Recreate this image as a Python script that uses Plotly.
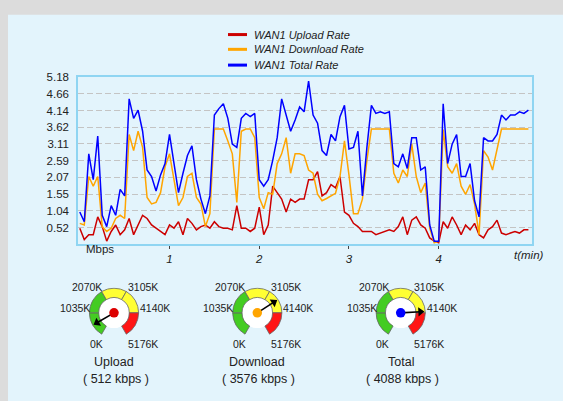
import plotly.graph_objects as go

W, H = 563, 401

# ---------------- data ----------------
times_s = list(range(0, 301, 3))  # sample time in seconds

upload = [0.5, 0.15, 0.3, 0.3, 0.85, 0.55, 0.1, 0.4, 0.6, 0.3,
          0.45, 0.8, 0.3, 0.6, 0.9, 0.8, 0.6, 0.5, 0.4, 0.3,
          0.6, 0.5, 0.7, 0.3, 0.8, 0.65, 0.45, 0.55, 0.6, 0.5,
          0.7, 0.55, 0.5, 0.5, 0.45, 1.2, 0.5, 0.5, 0.4, 0.5,
          1.15, 0.3, 0.6, 1.8, 1.6, 1.4, 1.0, 1.4, 1.3, 1.4,
          1.4, 2.0, 2.0, 2.25, 1.5, 1.6, 1.85, 1.75, 2.1, 1.0,
          0.9, 0.65, 0.55, 0.4, 0.4, 0.4, 0.3, 0.35, 0.42, 0.45,
          0.4, 0.55, 0.85, 0.3, 0.75, 0.85, 0.6, 0.5, 0.2, 0.1,
          0.05, 0.7, 0.5, 0.85, 0.6, 0.3, 0.6, 0.45, 0.65, 0.3,
          0.2, 0.45, 0.55, 0.75, 0.35, 0.3, 0.35, 0.4, 0.35, 0.45,
          0.45]

download = [0.65, 0.6, 2.1, 1.8, 2.1, 0.55, 0.4, 0.5, 0.8, 0.9,
            0.8, 3.4, 2.9, 3.5, 3.0, 1.45, 1.25, 1.3, 1.6, 2.4,
            2.8, 2.0, 1.2, 1.45, 2.1, 2.2, 1.45, 1.25, 0.55, 0.95,
            3.57, 3.57, 3.57, 3.2, 2.8, 1.3, 3.5, 3.57, 3.57, 3.3,
            1.45, 1.1, 1.6, 1.55, 2.5, 2.8, 3.3, 2.2, 2.8, 2.8,
            2.75, 2.3, 2.2, 1.55, 1.35, 1.42, 1.5, 1.58, 2.1, 3.2,
            2.15, 0.95, 0.95, 1.4, 2.6, 3.57, 3.57, 3.57, 3.57, 3.57,
            2.2, 1.9, 2.3, 2.1, 3.1, 2.1, 1.6, 1.9, 0.5, 0.05,
            0.1, 3.55, 2.4, 2.2, 2.5, 1.8, 1.55, 1.85, 1.25, 0.3,
            2.9, 2.7, 2.3, 2.9, 3.57, 3.57, 3.57, 3.57, 3.57, 3.57,
            3.57]

total = [1.0, 0.7, 2.8, 2.0, 3.35, 0.9, 0.55, 1.2, 0.9, 1.7,
         1.5, 4.5, 3.9, 4.15, 3.5, 2.3, 2.1, 1.65, 2.15, 2.5,
         3.4, 2.5, 1.6, 2.2, 2.75, 3.05, 2.0, 1.4, 0.95, 1.5,
         4.0, 4.2, 4.35, 3.9, 3.1, 3.0, 3.9, 4.05, 3.95, 4.05,
         2.0, 1.8, 2.0, 2.6, 3.3, 4.5, 4.0, 3.5, 3.85, 4.25,
         4.1, 5.05, 4.0, 3.75, 2.9, 2.75, 3.4, 3.2, 3.95, 4.3,
         2.95, 3.0, 3.5, 1.5, 3.0, 4.3, 4.05, 4.1, 4.05, 4.1,
         2.5, 2.4, 2.8, 2.35, 3.3, 3.3, 2.3, 2.4, 0.6, 0.1,
         0.1, 4.35, 2.5, 3.1, 3.4, 2.1, 2.1, 2.5, 1.35, 0.85,
         3.3, 3.2, 3.2, 3.4, 4.0, 3.85, 4.0, 4.0, 4.1, 4.05,
         4.15]

series_names = ["WAN1 Upload Rate", "WAN1 Download Rate", "WAN1 Total Rate"]
series_colors = ["#cc0000", "#ffa500", "#0000ff"]

y_tickvals = [0.52, 1.04, 1.55, 2.07, 2.59, 3.11, 3.62, 4.14, 4.66, 5.18]
y_ticktext = ["0.52", "1.04", "1.55", "2.07", "2.59", "3.11", "3.62", "4.14", "4.66", "5.18"]
x_tickvals = [1, 2, 3, 4]

gauge_edges = [0, 1035, 2070, 3105, 4140, 5176]          # kbps
gauge_seg_colors = ["#44cc22", "#44cc22", "#ffff33", "#ffff33", "#ff1515"]
gauge_tick_labels = ["0K", "1035K", "2070K", "3105K", "4140K", "5176K"]
gauge_names = ["Upload", "Download", "Total"]
gauge_values = [512, 3576, 4088]                          # kbps
gauge_dot_colors = ["#dd0000", "#ffa500", "#0000ff"]

# ---------------- figure ----------------
fig = go.Figure()

x_min = [t / 60 for t in times_s]
for vals, name, col in zip([upload, download, total], series_names, series_colors):
    fig.add_trace(go.Scatter(x=x_min, y=vals, mode="lines", name=name,
                             line=dict(color=col, width=1.5), showlegend=False,
                             xaxis="x", yaxis="y"))

FONT = "Liberation Sans, Arial, sans-serif"

shapes = []
annotations = []

# background panel
shapes.append(dict(type="rect", xref="paper", yref="paper", x0=8 / W, x1=1.0,
                   y0=0, y1=(H - 9) / H, fillcolor="#e3f4fc", line=dict(width=0),
                   layer="below"))

# legend (custom, to match compact look)
leg_y = [29, 44, 60]
for name, col, yy in zip(series_names, series_colors, leg_y):
    shapes.append(dict(type="line", xref="paper", yref="paper",
                       x0=228 / W, x1=247 / W, y0=(H - yy) / H, y1=(H - yy) / H,
                       line=dict(color=col, width=3)))
    annotations.append(dict(text=name, xref="paper", yref="paper", x=252 / W,
                            y=(H - yy) / H, xanchor="left", yanchor="middle",
                            showarrow=False,
                            font=dict(family=FONT, size=11, color="#222", style="italic")))

annotations.append(dict(text="Mbps", xref="paper", yref="paper", x=100 / W, y=(H - 247) / H,
                        xanchor="center", yanchor="middle", showarrow=False,
                        font=dict(family=FONT, size=11.5, color="#222")))
annotations.append(dict(text="t(min)", xref="paper", yref="paper", x=529 / W, y=(H - 253) / H,
                        xanchor="center", yanchor="middle", showarrow=False,
                        font=dict(family=FONT, size=11.5, color="#222", style="italic")))

# ---------------- gauges ----------------
deg_per_kbps = 60 / 1035
centers = [(114, 311.5), (257.3, 311.5), (400.7, 311.5)]
R = 26
label_offsets = [(-18, 31.5), (-39, -4.5), (-27, -26), (28.5, -26), (41, -4.5), (28.5, 31.5)]

layout_polars = {}
for i, ((cx, cy), gname, gval, dcol) in enumerate(zip(centers, gauge_names, gauge_values, gauge_dot_colors)):
    pname = "polar" if i == 0 else f"polar{i + 1}"
    layout_polars[pname] = dict(
        domain=dict(x=[(cx - R) / W, (cx + R) / W], y=[(H - cy - R) / H, (H - cy + R) / H]),
        bgcolor="rgba(0,0,0,0)", bargap=0,
        radialaxis=dict(visible=False, range=[0, R]),
        angularaxis=dict(visible=False, rotation=240, direction="clockwise",
                         showgrid=False, showline=False, ticks=""),
    )
    fig.add_trace(go.Barpolar(r=[15.5], theta=[180], width=[360], base=[0],
                              marker=dict(color="white", line=dict(width=0)),
                              subplot=pname, showlegend=False, hoverinfo="skip"))
    th = [(a + b) / 2 * deg_per_kbps for a, b in zip(gauge_edges[:-1], gauge_edges[1:])]
    wd = [(b - a) * deg_per_kbps for a, b in zip(gauge_edges[:-1], gauge_edges[1:])]
    fig.add_trace(go.Barpolar(r=[9.5] * 5, theta=th, width=wd, base=[15.5] * 5,
                              marker=dict(color=gauge_seg_colors, line=dict(color="#666", width=0.8)),
                              subplot=pname, showlegend=False, hoverinfo="skip"))
    ang = gval * deg_per_kbps
    fig.add_trace(go.Scatterpolar(r=[0, 20], theta=[ang, ang], mode="lines",
                                  line=dict(color="black", width=1.6),
                                  subplot=pname, showlegend=False, hoverinfo="skip"))
    screen_ang = 240 - ang
    fig.add_trace(go.Scatterpolar(r=[20], theta=[ang], mode="markers",
                                  marker=dict(symbol="triangle-up", size=8, color="black",
                                              angle=90 - screen_ang),
                                  subplot=pname, showlegend=False, hoverinfo="skip"))
    fig.add_trace(go.Scatterpolar(r=[0], theta=[0], mode="markers",
                                  marker=dict(size=9.5, color=dcol),
                                  subplot=pname, showlegend=False, hoverinfo="skip"))
    for lab, (dx, dy) in zip(gauge_tick_labels, label_offsets):
        annotations.append(dict(text=lab, xref="paper", yref="paper",
                                x=(cx + dx) / W, y=(H - cy - dy) / H,
                                xanchor="center", yanchor="middle", showarrow=False,
                                font=dict(family=FONT, size=10.5, color="#222")))
    annotations.append(dict(text=gname, xref="paper", yref="paper",
                            x=cx / W, y=(H - cy - 49.5) / H, xanchor="center", yanchor="middle",
                            showarrow=False, font=dict(family=FONT, size=12.5, color="#222")))
    annotations.append(dict(text=f"( {gval} kbps )", xref="paper", yref="paper",
                            x=(cx + 1.5) / W, y=(H - cy - 67) / H, xanchor="center", yanchor="middle",
                            showarrow=False, font=dict(family=FONT, size=12.5, color="#222")))

fig.update_layout(
    width=W, height=H,
    margin=dict(l=0, r=0, t=0, b=0),
    paper_bgcolor="#dcdcdc",
    plot_bgcolor="#e6f5fc",
    showlegend=False,
    font=dict(family=FONT, color="#222"),
    xaxis=dict(domain=[78 / W, 532 / W], range=[-0.02, 5.04], tickvals=x_tickvals,
               ticks="outside", ticklen=3, tickcolor="#444", tickwidth=1,
               tickfont=dict(family=FONT, size=11.5, color="#222", style="italic"),
               showline=True, mirror=True, linecolor="#8fd5f2", linewidth=1.5,
               showgrid=False, zeroline=False, anchor="y"),
    yaxis=dict(domain=[(H - 242) / H, (H - 72) / H], range=[0, 5.18],
               tickvals=y_tickvals, ticktext=y_ticktext,
               ticks="outside", ticklen=5, tickcolor="rgba(0,0,0,0)",
               tickfont=dict(family=FONT, size=11.5, color="#222"),
               showline=True, mirror=True, linecolor="#8fd5f2", linewidth=1.5,
               showgrid=True, gridcolor="#c4c4c4", griddash="6px,3px", gridwidth=1,
               zeroline=False, anchor="x"),
    shapes=shapes,
    annotations=annotations,
    **layout_polars,
)

fig.write_html("out.html", config={"displayModeBar": False},
               post_script="document.body.style.margin='0';document.body.style.overflow='hidden';")
